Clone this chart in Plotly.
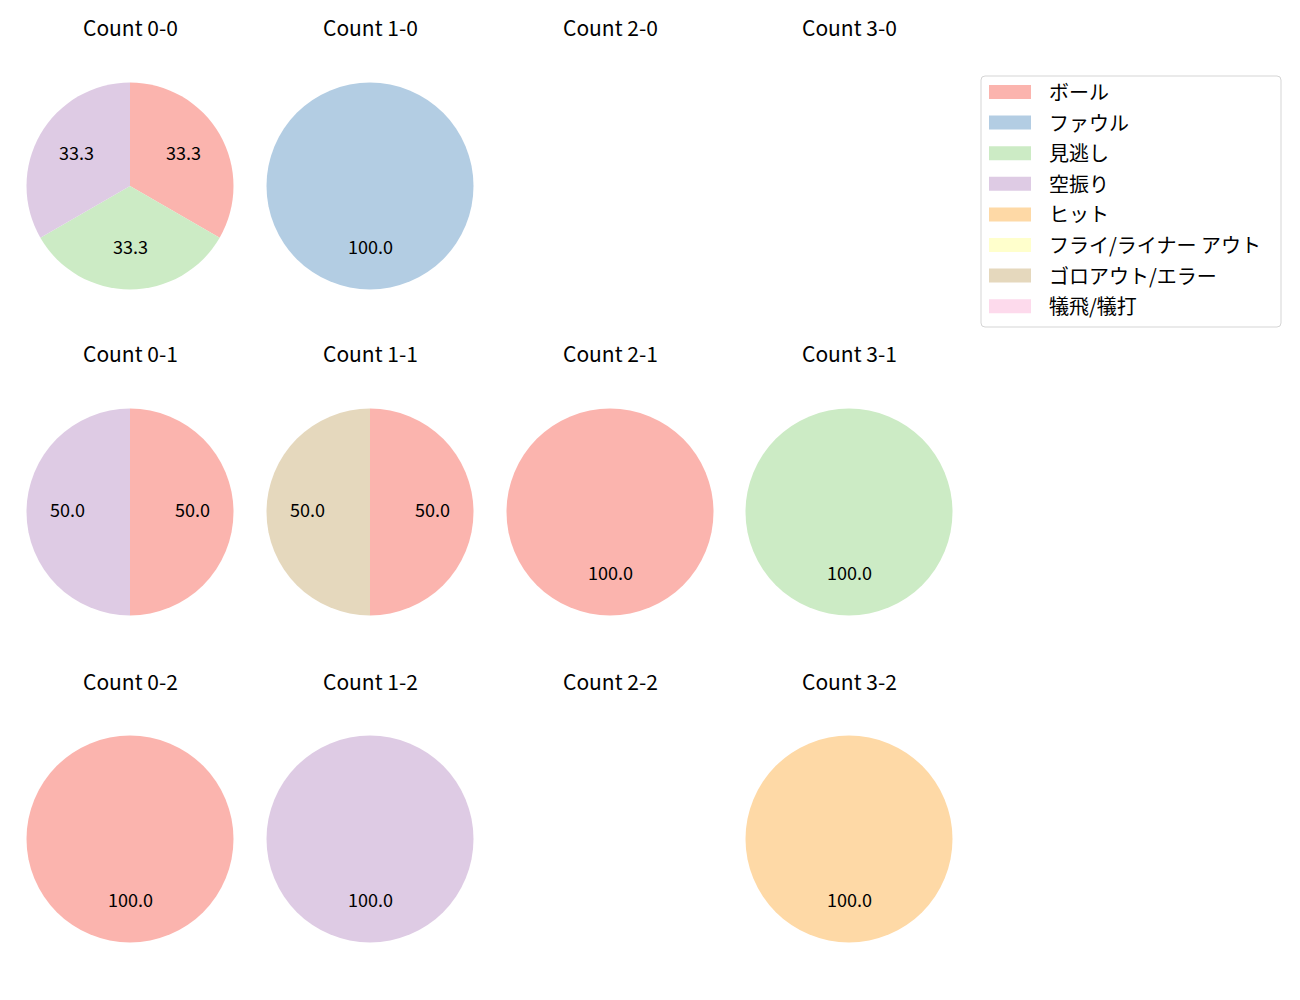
import math
import plotly.graph_objects as go

counts = ["0-0", "1-0", "2-0", "3-0", "0-1", "1-1", "2-1", "3-1", "0-2", "1-2", "2-2", "3-2"]
labels = ["ボール", "ファウル", "見逃し", "空振り", "ヒット", "フライ/ライナー アウト", "ゴロアウト/エラー", "犠飛/犠打"]
colors = ["#fbb4ae", "#b3cde3", "#ccebc5", "#decbe4", "#fed9a6", "#ffffcc", "#e5d8bd", "#fddaec"]

ball     = [1, 0, 0, 0, 1, 1, 1, 0, 1, 0, 0, 0]
foul     = [0, 1, 0, 0, 0, 0, 0, 0, 0, 0, 0, 0]
minogashi = [1, 0, 0, 0, 0, 0, 0, 1, 0, 0, 0, 0]
karaburi = [1, 0, 0, 0, 1, 0, 0, 0, 0, 1, 0, 0]
hit      = [0, 0, 0, 0, 0, 0, 0, 0, 0, 0, 0, 1]
fly      = [0, 0, 0, 0, 0, 0, 0, 0, 0, 0, 0, 0]
goro     = [0, 0, 0, 0, 0, 1, 0, 0, 0, 0, 0, 0]
gida     = [0, 0, 0, 0, 0, 0, 0, 0, 0, 0, 0, 0]
series = [ball, foul, minogashi, karaburi, hit, fly, goro, gida]

W, H = 1300, 1000
FONT = "Noto Sans CJK JP, Noto Sans, sans-serif"
col_cx = [130, 370, 610, 849]
row_cy = [186, 512, 839]
R = 103.5


def px(x):
    return x / W


def py(y):
    return 1 - y / H


fig = go.Figure()
annotations = []
for i, c in enumerate(counts):
    col, row = i % 4, i // 4
    cx, cy = col_cx[col], row_cy[row]
    annotations.append(dict(x=px(cx), y=py(cy - 158.5), xref="paper", yref="paper",
                            text="Count " + c, showarrow=False,
                            font=dict(size=21, color="#000000", family=FONT),
                            xanchor="center", yanchor="middle"))
    vals = [s[i] for s in series]
    idx = [k for k, v in enumerate(vals) if v > 0]
    if not idx:
        continue
    tot = sum(vals[k] for k in idx)
    fig.add_trace(go.Pie(
        labels=[labels[k] for k in idx],
        values=[vals[k] for k in idx],
        marker=dict(colors=[colors[k] for k in idx]),
        sort=False, direction="clockwise", rotation=0,
        textinfo="none", hoverinfo="label+percent", showlegend=False,
        domain=dict(x=[px(cx - R), px(cx + R)], y=[py(cy + R), py(cy - R)]),
    ))
    start = 90.0
    for k in idx:
        span = 360.0 * vals[k] / tot
        mid = math.radians(start - span / 2)
        start -= span
        tx = cx + 0.6 * R * math.cos(mid)
        ty = cy - 0.6 * R * math.sin(mid) - 2.5
        annotations.append(dict(x=px(tx), y=py(ty), xref="paper", yref="paper",
                                text=f"{100 * vals[k] / tot:.1f}", showarrow=False,
                                font=dict(size=18, color="#000000", family=FONT),
                                xanchor="center", yanchor="middle"))

# legend drawn manually
x0, x1, y0, y1, r = 981, 1281, 76, 327, 4
path = (f"M {px(x0 + r)} {py(y0)} L {px(x1 - r)} {py(y0)} "
        f"Q {px(x1)} {py(y0)} {px(x1)} {py(y0 + r)} L {px(x1)} {py(y1 - r)} "
        f"Q {px(x1)} {py(y1)} {px(x1 - r)} {py(y1)} L {px(x0 + r)} {py(y1)} "
        f"Q {px(x0)} {py(y1)} {px(x0)} {py(y1 - r)} L {px(x0)} {py(y0 + r)} "
        f"Q {px(x0)} {py(y0)} {px(x0 + r)} {py(y0)} Z")
shapes = [dict(type="path", xref="paper", yref="paper", path=path,
               line=dict(color="#d5d5d5", width=1), fillcolor="rgba(255,255,255,0.8)")]
for j, (lab, colr) in enumerate(zip(labels, colors)):
    yc = 92 + j * 30.6
    shapes.append(dict(type="rect", xref="paper", yref="paper",
                       x0=px(989), x1=px(1031), y0=py(yc + 7), y1=py(yc - 7),
                       line=dict(width=0), fillcolor=colr))
    annotations.append(dict(x=px(1047), y=py(yc - 0.5), xref="paper", yref="paper",
                            text=lab, showarrow=False,
                            font=dict(size=20, color="#000000", family=FONT),
                            xanchor="left", yanchor="middle"))

fig.update_layout(width=W, height=H, margin=dict(l=0, r=0, t=0, b=0),
                  paper_bgcolor="white", plot_bgcolor="white",
                  annotations=annotations, shapes=shapes, showlegend=False)
fig.write_html("out.html")
